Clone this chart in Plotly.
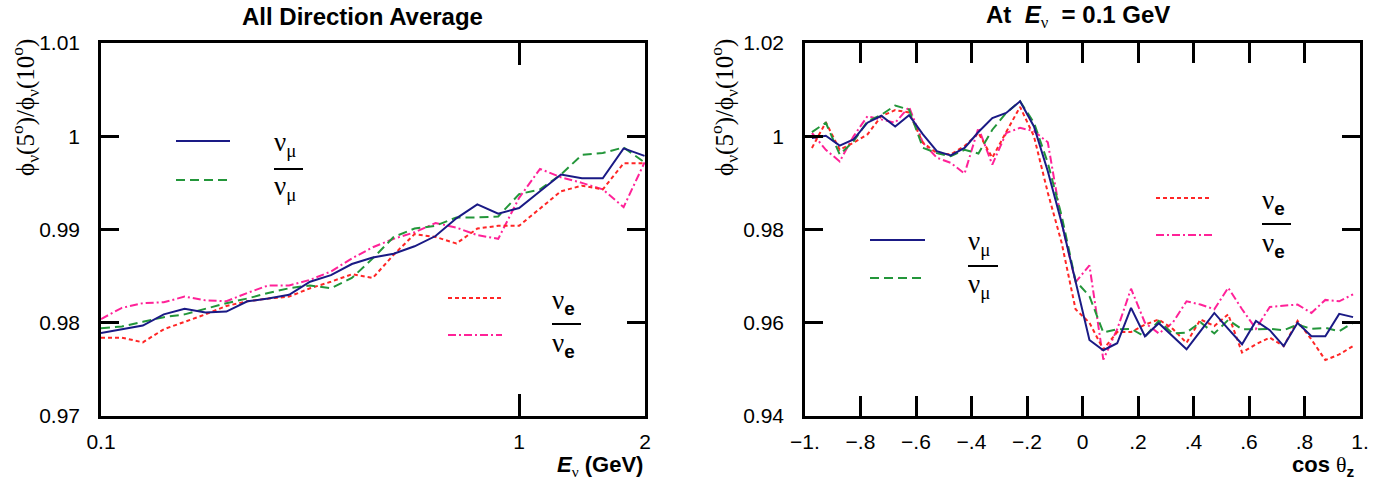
import plotly.graph_objects as go

W, H = 1375, 492

# ---------------- data: left panel (all-direction average vs energy) ----------------
energy_gev = [0.1, 0.1122, 0.1259, 0.1413, 0.1585, 0.1778, 0.1995, 0.2239, 0.2512,
              0.2818, 0.3162, 0.3548, 0.3981, 0.4467, 0.5012, 0.5623, 0.6310, 0.7079,
              0.7943, 0.8913, 1.0, 1.122, 1.259, 1.413, 1.585, 1.778, 1.995]
numu_E = [0.9789, 0.9793, 0.9797, 0.9809, 0.9815, 0.9811, 0.9812, 0.9823, 0.9826,
          0.9830, 0.9844, 0.9851, 0.9863, 0.9870, 0.9874, 0.9882, 0.9893, 0.9912,
          0.9927, 0.9917, 0.9923, 0.9941, 0.9959, 0.9955, 0.9955, 0.9987, 0.9979]
numubar_E = [0.9794, 0.9796, 0.9801, 0.9806, 0.9809, 0.9815, 0.9821, 0.9826, 0.9832,
             0.9837, 0.9840, 0.9837, 0.9848, 0.9869, 0.9892, 0.9901, 0.9904, 0.9913,
             0.9913, 0.9914, 0.9938, 0.9943, 0.9959, 0.9980, 0.9982, 0.9988, 0.9972]
nue_E = [0.9784, 0.9784, 0.9779, 0.9793, 0.9801, 0.9809, 0.9818, 0.9823, 0.9826,
         0.9828, 0.9837, 0.9844, 0.9852, 0.9848, 0.9873, 0.9895, 0.9892, 0.9885,
         0.9901, 0.9904, 0.9904, 0.9923, 0.9941, 0.9947, 0.9943, 0.9971, 0.9971]
nuebar_E = [0.9804, 0.9816, 0.9821, 0.9822, 0.9828, 0.9824, 0.9823, 0.9832, 0.9840,
            0.9840, 0.9846, 0.9855, 0.9869, 0.9881, 0.9890, 0.9897, 0.9907, 0.9902,
            0.9894, 0.9890, 0.9934, 0.9965, 0.9956, 0.9950, 0.9943, 0.9924, 0.9972]

# ---------------- data: right panel (zenith dependence at 0.1 GeV) ----------------
cos_zenith = [-0.975, -0.925, -0.875, -0.825, -0.775, -0.725, -0.675, -0.625, -0.575, -0.525,
              -0.475, -0.425, -0.375, -0.325, -0.275, -0.225, -0.175, -0.125, -0.075, -0.025,
              0.025, 0.075, 0.125, 0.175, 0.225, 0.275, 0.325, 0.375, 0.425, 0.475,
              0.525, 0.575, 0.625, 0.675, 0.725, 0.775, 0.825, 0.875, 0.925, 0.975]
numu_c = [0.9996, 1.0001, 0.9980, 0.9993, 1.0029, 1.0044, 1.0021, 1.0045, 1.0004, 0.9968,
          0.9959, 0.9975, 1.0009, 1.0039, 1.0050, 1.0075, 1.0021, 0.9925, 0.9814, 0.9686,
          0.9563, 0.9541, 0.9556, 0.9632, 0.9571, 0.9599, 0.9571, 0.9543, 0.9582, 0.9621,
          0.9587, 0.9554, 0.9604, 0.9584, 0.9550, 0.9600, 0.9571, 0.9571, 0.9619, 0.9612]
numubar_c = [1.0009, 1.0029, 0.9961, 0.9989, 1.0032, 1.0046, 1.0066, 1.0057, 0.9975, 0.9964,
             0.9957, 0.9971, 0.9963, 1.0014, 1.0050, 1.0075, 1.0029, 0.9943, 0.9829, 0.9690,
             0.9657, 0.9579, 0.9586, 0.9587, 0.9570, 0.9604, 0.9577, 0.9579, 0.9601, 0.9577,
             0.9606, 0.9586, 0.9586, 0.9587, 0.9584, 0.9596, 0.9587, 0.9589, 0.9582, 0.9600]
nue_c = [0.9975, 1.0030, 0.9971, 0.9986, 1.0004, 1.0043, 1.0056, 1.0051, 0.9986, 0.9964,
         0.9961, 0.9979, 1.0007, 0.9954, 1.0009, 1.0063, 1.0000, 0.9879, 0.9771, 0.9629,
         0.9600, 0.9543, 0.9580, 0.9580, 0.9596, 0.9607, 0.9587, 0.9557, 0.9607, 0.9593,
         0.9618, 0.9536, 0.9554, 0.9568, 0.9550, 0.9604, 0.9564, 0.9520, 0.9532, 0.9550]
nuebar_c = [1.0007, 0.9971, 0.9946, 1.0000, 1.0043, 1.0036, 1.0029, 1.0063, 0.9986, 0.9954,
            0.9943, 0.9920, 1.0018, 0.9939, 1.0007, 1.0018, 1.0011, 0.9987, 0.9814, 0.9687,
            0.9723, 0.9521, 0.9586, 0.9673, 0.9600, 0.9577, 0.9600, 0.9646, 0.9639, 0.9629,
            0.9675, 0.9629, 0.9587, 0.9634, 0.9636, 0.9639, 0.9621, 0.9649, 0.9646, 0.9661]

# tick labels / tick positions
left_x_ticks = [0.1, 1, 2]
left_x_ticktext = ["0.1", "1", "2"]
left_x_minor = [0.2, 0.3, 0.4, 0.5, 0.6, 0.7, 0.8, 0.9]
left_y_ticks = [0.97, 0.98, 0.99, 1.0, 1.01]
left_y_ticktext = ["0.97", "0.98", "0.99", "1", "1.01"]
right_x_ticks = [-1, -0.8, -0.6, -0.4, -0.2, 0, 0.2, 0.4, 0.6, 0.8, 1]
right_x_ticktext = ["\u22121.", "\u2212.8", "\u2212.6", "\u2212.4", "\u2212.2", "0",
                    ".2", ".4", ".6", ".8", "1."]
right_x_minor = [-0.9, -0.7, -0.5, -0.3, -0.1, 0.1, 0.3, 0.5, 0.7, 0.9]
right_y_ticks = [0.94, 0.96, 0.98, 1.0, 1.02]
right_y_ticktext = ["0.94", "0.96", "0.98", "1", "1.02"]

# styles
BLUE, GREEN, RED, MAG = "#1a1a85", "#23963a", "#ff2626", "#ff2298"
styles = {
    "numu": dict(color=BLUE, width=2, dash="solid"),
    "numubar": dict(color=GREEN, width=2, dash="9px,5px"),
    "nue": dict(color=RED, width=2, dash="4px,3px"),
    "nuebar": dict(color=MAG, width=2, dash="8px,3px,2px,3px"),
}

YR1 = [0.97, 1.01]
YR2 = [0.94, 1.02]
XR1 = [-1, 0.30103]
XR2 = [-1, 1]

fig = go.Figure()
for name, ys in [("nuebar", nuebar_E), ("nue", nue_E), ("numubar", numubar_E), ("numu", numu_E)]:
    fig.add_trace(go.Scatter(x=energy_gev, y=ys, mode="lines", line=styles[name],
                             xaxis="x", yaxis="y", showlegend=False, hoverinfo="skip"))
for name, ys in [("nuebar", nuebar_c), ("nue", nue_c), ("numubar", numubar_c), ("numu", numu_c)]:
    fig.add_trace(go.Scatter(x=cos_zenith, y=ys, mode="lines", line=styles[name],
                             xaxis="x2", yaxis="y2", showlegend=False, hoverinfo="skip"))

SANS = "Liberation Sans"
SERIF = "Liberation Serif"
TICKFONT = dict(family=SANS, size=21, color="black")

def px(x):
    return x / W

def py(y):
    return 1 - y / H

ydom = [py(416), py(43)]
xdom1 = [px(101), px(645)]
xdom2 = [px(805), px(1360)]
common = dict(showline=True, linewidth=2.5, linecolor="black", mirror="allticks",
              ticks="inside", tickwidth=2.5, tickcolor="black", showgrid=False,
              zeroline=False, tickfont=TICKFONT, automargin=False)
minor_common = dict(showline=False, mirror="allticks", ticks="inside", tickwidth=2,
                    tickcolor="black", ticklen=8, showgrid=False, zeroline=False,
                    showticklabels=False, automargin=False, tickmode="array")

fig.update_layout(
    width=W, height=H, margin=dict(l=0, r=0, t=0, b=0, autoexpand=False),
    paper_bgcolor="white", plot_bgcolor="white", showlegend=False,
    xaxis=dict(domain=xdom1, anchor="y", type="log", range=XR1, tickmode="array",
               tickvals=left_x_ticks, ticktext=left_x_ticktext, ticklen=22,
               ticklabelstandoff=5, **common),
    xaxis3=dict(domain=xdom1, anchor="y", overlaying="x", type="log", range=XR1,
                tickvals=left_x_minor, **minor_common),
    yaxis=dict(domain=ydom, anchor="x", range=YR1, tickmode="array",
               tickvals=left_y_ticks, ticktext=left_y_ticktext, ticklen=18,
               ticklabelstandoff=14, **common),
    xaxis2=dict(domain=xdom2, anchor="y2", range=XR2, tickmode="array",
                tickvals=right_x_ticks, ticktext=right_x_ticktext, ticklen=20,
                ticklabelstandoff=5, **common),
    xaxis4=dict(domain=xdom2, anchor="y2", overlaying="x2", range=XR2,
                tickvals=right_x_minor, **minor_common),
    yaxis2=dict(domain=ydom, anchor="x2", range=YR2, tickmode="array",
                tickvals=right_y_ticks, ticktext=right_y_ticktext, ticklen=18,
                ticklabelstandoff=14, **common),
)

ann = []

def text(x, y, s, size=20, family=SANS, xanchor="center", yanchor="middle", angle=0):
    ann.append(dict(x=px(x), y=py(y), xref="paper", yref="paper", text=s, showarrow=False,
                    xanchor=xanchor, yanchor=yanchor, textangle=angle,
                    font=dict(family=family, size=size, color="black")))

serif_span = "<span style='font-family:Liberation Serif;font-weight:normal'>{}</span>"
NB = "\u00a0"

# titles
text(362, 17, "<b>All Direction Average</b>", size=24)
text(1078, 17, "<b>At" + NB * 2 + "<i>E</i></b><sub>" + serif_span.format("\u03bd") + "</sub><b>"
     + NB * 2 + "= 0.1 GeV</b>", size=24)
# axis titles
text(645, 466, "<b><i>E</i></b><sub>" + serif_span.format("\u03bd") + "</sub><b> (GeV)</b>",
     size=22, xanchor="right")
text(1357, 466, "<b>cos </b>" + serif_span.format("\u03b8") + "<sub><b>z</b></sub>",
     size=22, xanchor="right")
ytitle = "\u03d5<sub>\u03bd</sub>(5<sup>o</sup>)/\u03d5<sub>\u03bd</sub>(10<sup>o</sup>)"
text(25, 108, ytitle, size=25, family=SERIF, angle=-90)
text(724, 108, ytitle, size=25, family=SERIF, angle=-90)

# legends
numu_lbl = "\u03bd<sub>\u03bc</sub>"
nue_lbl = "\u03bd<sub><b><span style='font-family:Liberation Sans'>e</span></b></sub>"

shapes = []

def seg(x0, x1, y, line):
    shapes.append(dict(type="line", xref="paper", yref="paper", x0=px(x0), x1=px(x1),
                       y0=py(y), y1=py(y), line=line))

bar = dict(color="black", width=2)
# left panel
seg(176, 230, 141, styles["numu"])
seg(176, 230, 180, styles["numubar"])
text(272, 144, numu_lbl, size=27, family=SERIF, xanchor="left")
seg(274, 303, 169, bar)
text(272, 188, numu_lbl, size=27, family=SERIF, xanchor="left")
seg(448, 502, 298, styles["nue"])
seg(448, 502, 335, styles["nuebar"])
text(550, 302, nue_lbl, size=27, family=SERIF, xanchor="left")
seg(552, 581, 324, bar)
text(550, 345, nue_lbl, size=27, family=SERIF, xanchor="left")
# right panel
seg(870, 925, 240, styles["numu"])
seg(870, 925, 278, styles["numubar"])
text(966, 243, numu_lbl, size=27, family=SERIF, xanchor="left")
seg(968, 998, 266, bar)
text(966, 286, numu_lbl, size=27, family=SERIF, xanchor="left")
seg(1156, 1212, 198, styles["nue"])
seg(1156, 1212, 235, styles["nuebar"])
text(1260, 202, nue_lbl, size=27, family=SERIF, xanchor="left")
seg(1262, 1291, 224, bar)
text(1260, 245, nue_lbl, size=27, family=SERIF, xanchor="left")

fig.update_layout(annotations=ann, shapes=shapes)
fig.write_html("out.html")
